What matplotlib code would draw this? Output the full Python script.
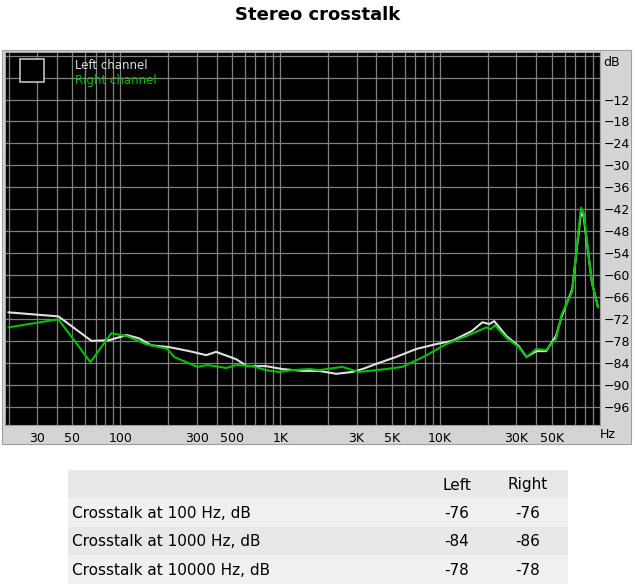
import matplotlib
matplotlib.use("Agg")
import matplotlib.pyplot as plt
from matplotlib.patches import Rectangle
from matplotlib.ticker import FixedLocator, NullFormatter, LogLocator

W, H = 636, 588

# dane
left_f = [20, 41, 66, 85, 110, 131, 156, 202, 270, 345, 397, 530, 620, 815, 1030, 1370,
          1750, 2240, 2830, 3270, 3980, 5300, 7100, 9400, 11900, 15800, 18400, 20300, 21800,
          26000, 31000, 34700, 40000, 46000, 53000, 57600, 67000, 76000, 79000, 89000, 97000]
left_db = [-70.2, -71.3, -78, -77.8, -76.4, -77.3, -79.2, -79.7, -80.8, -81.9, -81, -83, -84.9, -84.9, -85.7, -86.2,
           -86.2, -87, -86.5, -85.7, -84.3, -82.4, -80.2, -78.9, -78, -75.3, -72.9, -73.4, -72.6,
           -76.7, -79.4, -82.4, -80.8, -80.8, -76.7, -71.3, -63.9, -43, -44, -62, -68.6]
right_f = [20, 41, 65, 88, 110, 145, 197, 217, 303, 350, 460, 530, 670, 815, 990, 1190, 1520,
           1750, 2440, 3100, 4600, 5800, 8100, 10900, 14600, 19500, 20800, 22000,
           26000, 31000, 34700, 40000, 46000, 53000, 57600, 67000, 76000, 79000, 89000, 97000]
right_db = [-74.3, -72.1, -83.8, -75.9, -76.7, -78.9, -80.2, -82.4, -85.1, -84.6, -85.4, -84.6, -84.9, -86, -86.5, -86, -85.7,
            -86, -85.1, -86.5, -85.7, -85.1, -82.1, -78.9, -76.7, -74.3, -74.8, -73.7,
            -77.2, -79.7, -82.4, -80.2, -80.5, -77.5, -70.7, -64.5, -41.6, -43, -62, -68.8]

x_ticks = [30, 50, 100, 300, 500, 1000, 3000, 5000, 10000, 30000, 50000]
x_labels = ["30", "50", "100", "300", "500", "1K", "3K", "5K", "10K", "30K", "50K"]
y_ticks = list(range(-12, -97, -6))

row_labels = ["Crosstalk at 100 Hz, dB", "Crosstalk at 1000 Hz, dB", "Crosstalk at 10000 Hz, dB"]
left_vals = [-76, -84, -78]
right_vals = [-76, -86, -78]


def fx(px):
    return px / W


def fy(py):
    return 1 - py / H


fig = plt.figure(figsize=(W / 100, H / 100), dpi=100)
fig.text(0.5, fy(15), "Stereo crosstalk", ha="center", va="center", fontsize=13, fontweight="bold")

# szara ramka wokol wykresu
fig.patches.append(Rectangle((fx(2), fy(444)), fx(631) - fx(2), fy(50) - fy(444),
                             transform=fig.transFigure, facecolor="#d4d4d4", edgecolor="#a0a0a0",
                             lw=0.8, zorder=-5))

ax = fig.add_axes([fx(5), fy(425), fx(600) - fx(5), fy(52) - fy(425)])
ax.set_facecolor("black")
ax.set_xscale("log")
ax.set_xlim(19, 100000)
ax.set_ylim(-101, 1)
ax.plot(left_f, left_db, color="#e0e0e0", lw=1.5, label="Left channel")
ax.plot(right_f, right_db, color="#00c000", lw=1.5, label="Right channel")

ax.xaxis.set_major_locator(FixedLocator(x_ticks))
ax.set_xticklabels(x_labels)
ax.xaxis.set_minor_locator(LogLocator(base=10, subs=range(1, 10), numticks=20))
ax.xaxis.set_minor_formatter(NullFormatter())
ax.grid(True, which="both", axis="x", color="#808080", lw=0.9)
for v in range(0, -97, -6):
    ax.axhline(v, color="#808080", lw=0.9, zorder=0.5)
ax.set_axisbelow(True)
ax.yaxis.tick_right()
ax.set_yticks(y_ticks)
ax.tick_params(axis="both", which="both", length=0, labelsize=9)
ax.tick_params(axis="x", pad=5)
ax.tick_params(axis="y", pad=3)
for s in ax.spines.values():
    s.set_color("#a0a0a0")
fig.text(fx(603), fy(62), "dB", fontsize=9, va="center")
fig.text(fx(600), fy(434), "Hz", fontsize=9, va="center")

leg = ax.legend(loc="upper left", bbox_to_anchor=(0.1, 1.01), frameon=False, fontsize=8.5,
                handlelength=0, handletextpad=0, labelspacing=0.2)
for t, c in zip(leg.get_texts(), ["#e0e0e0", "#00c000"]):
    t.set_color(c)
for h in leg.legend_handles:
    h.set_visible(False)
ax.add_patch(Rectangle((0.025, 0.92), 0.04, 0.06, transform=ax.transAxes,
                       facecolor="black", edgecolor="#c0c0c0", lw=1.2))

# tabela
rows = [("", "Left", "Right")] + [(l, str(a), str(b)) for l, a, b in zip(row_labels, left_vals, right_vals)]
tops = [470, 498, 527, 555, 584]
colors = ["#e8e8e8", "#f0f0f0", "#e8e8e8", "#f0f0f0"]
for i, (lab, a, b) in enumerate(rows):
    y0, y1 = tops[i], tops[i + 1]
    fig.patches.append(Rectangle((fx(68), fy(y1)), fx(568) - fx(68), fy(y0) - fy(y1),
                                 transform=fig.transFigure, facecolor=colors[i], edgecolor="none",
                                 zorder=-5))
    yc = fy((y0 + y1) / 2 + 1)
    fig.text(fx(72), yc, lab, fontsize=11, va="center")
    fig.text(fx(457), yc, a, fontsize=11, va="center", ha="center")
    fig.text(fx(528), yc, b, fontsize=11, va="center", ha="center")

fig.savefig("out.png", dpi=100)
